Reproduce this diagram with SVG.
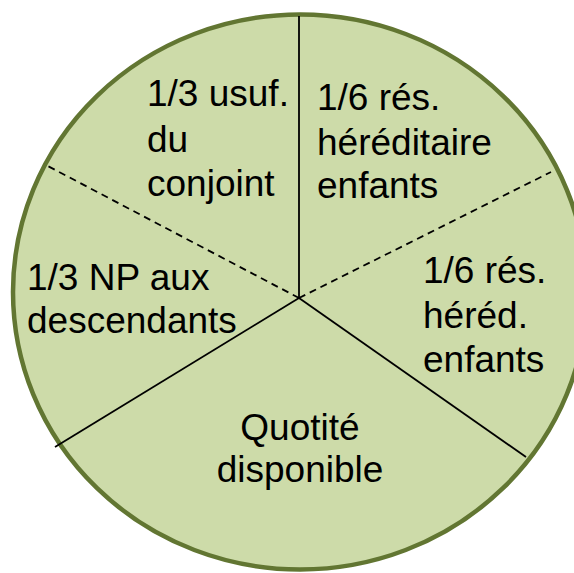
<svg xmlns="http://www.w3.org/2000/svg" width="574" height="573" viewBox="0 0 574 573">
<style>
.pie{fill:#cddba9;stroke:#627632;stroke-width:4.5}
.solid{stroke:#000;stroke-width:1.8;fill:none}
.dash{stroke:#000;stroke-width:1.8;fill:none;stroke-dasharray:7 5}
text{font-family:"Liberation Sans",Arial,sans-serif;font-size:37px;fill:#000}
</style>
<rect width="574" height="573" fill="#fff"/>
<g id="pie"><ellipse class="pie" cx="300" cy="292" rx="287" ry="277.5"/></g>
<g id="connectors">
<line class="solid" x1="299" y1="298" x2="299" y2="16"/>
<line class="dash" x1="299" y1="298" x2="44" y2="164"/>
<line class="dash" x1="299" y1="298" x2="551" y2="172"/>
<line class="solid" x1="299" y1="298" x2="55" y2="447"/>
<line class="solid" x1="299" y1="298" x2="526" y2="457"/>
</g>
<g id="usufruit"><text x="147" y="106">1/3 usuf.</text><text x="147" y="152">du</text><text x="147" y="196">conjoint</text></g>
<g id="reserve1"><text x="317" y="110">1/6 rés.</text><text x="317" y="155">héréditaire</text><text x="317" y="198">enfants</text></g>
<g id="reserve2"><text x="423" y="283">1/6 rés.</text><text x="423" y="328">héréd.</text><text x="423" y="372">enfants</text></g>
<g id="nue-propriete"><text x="27" y="290">1/3 NP aux</text><text x="27" y="333">descendants</text></g>
<g id="quotite"><text x="300" y="440" text-anchor="middle">Quotité</text><text x="300" y="482" text-anchor="middle">disponible</text></g>
</svg>
